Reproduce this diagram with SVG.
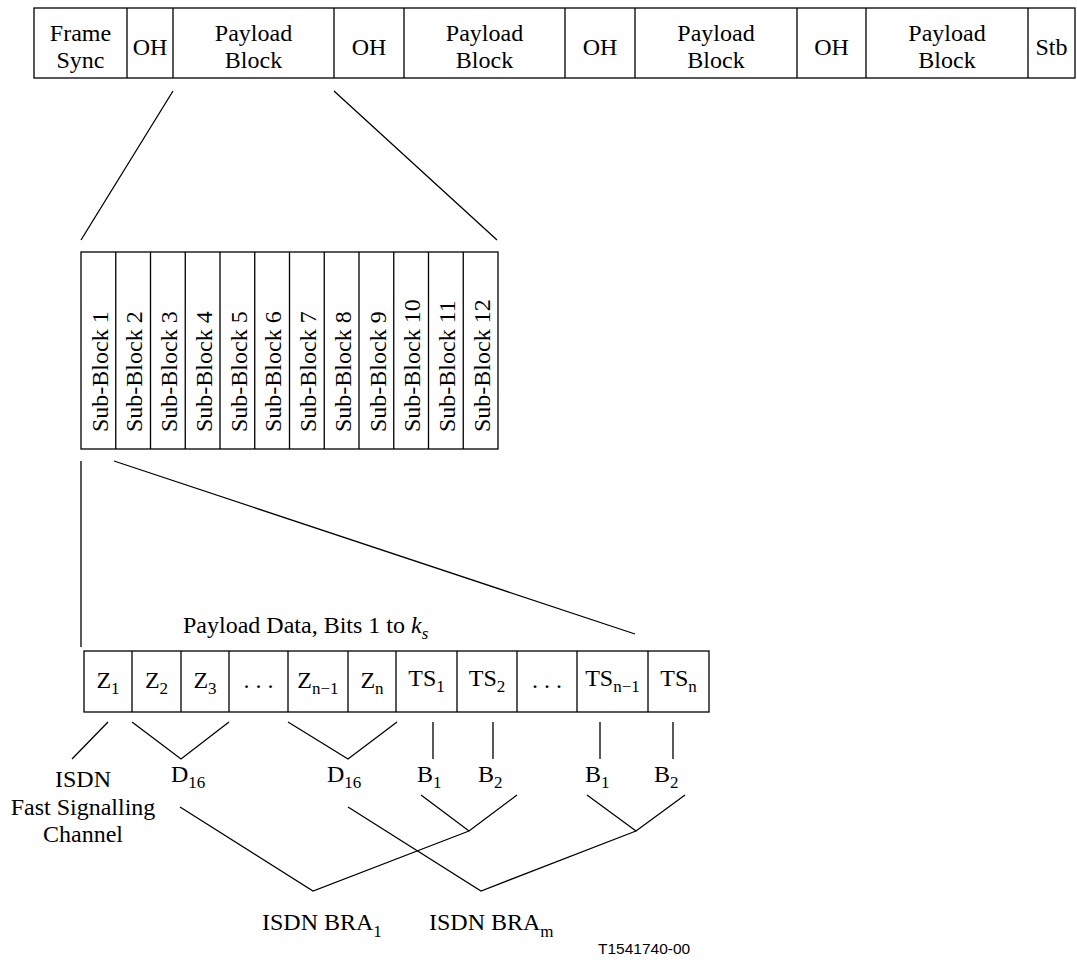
<svg xmlns="http://www.w3.org/2000/svg" width="1077" height="961" viewBox="0 0 1077 961">
<style>
.b{fill:#fff;stroke:#000;stroke-width:1.3}
.l{fill:none;stroke:#000;stroke-width:1.3}
text{font-family:"Liberation Serif","Times New Roman",serif;font-size:24px;fill:#000}
.m{text-anchor:middle}
.s{font-size:17px}
.c{font-family:"Liberation Sans",Arial,sans-serif;font-size:15.5px}
</style>
<rect width="1077" height="961" fill="#fff"/>
<g id="frame">
<rect class="b" x="34" y="8" width="1041" height="70"/>
<path class="l" d="M127 8V78M173 8V78M334 8V78M404 8V78M565 8V78M635 8V78M797 8V78M866 8V78M1028 8V78"/>
<text class="m" x="80.5" y="41">Frame</text><text class="m" x="80.5" y="68">Sync</text>
<text class="m" x="150" y="55">OH</text>
<text class="m" x="253.5" y="41">Payload</text><text class="m" x="253.5" y="68">Block</text>
<text class="m" x="369" y="55">OH</text>
<text class="m" x="484.5" y="41">Payload</text><text class="m" x="484.5" y="68">Block</text>
<text class="m" x="600" y="55">OH</text>
<text class="m" x="716" y="41">Payload</text><text class="m" x="716" y="68">Block</text>
<text class="m" x="831.5" y="55">OH</text>
<text class="m" x="947" y="41">Payload</text><text class="m" x="947" y="68">Block</text>
<text class="m" x="1051.5" y="55">Stb</text>
</g>
<g id="subblocks">
<rect class="b" x="81" y="252" width="417" height="197"/>
<path class="l" d="M115.75 252V449M150.5 252V449M185.25 252V449M220 252V449M254.75 252V449M289.5 252V449M324.25 252V449M359 252V449M393.75 252V449M428.5 252V449M463.25 252V449"/>
<text transform="translate(107.5 432) rotate(-90)">Sub-Block 1</text>
<text transform="translate(142.25 432) rotate(-90)">Sub-Block 2</text>
<text transform="translate(177 432) rotate(-90)">Sub-Block 3</text>
<text transform="translate(211.75 432) rotate(-90)">Sub-Block 4</text>
<text transform="translate(246.5 432) rotate(-90)">Sub-Block 5</text>
<text transform="translate(281.25 432) rotate(-90)">Sub-Block 6</text>
<text transform="translate(316 432) rotate(-90)">Sub-Block 7</text>
<text transform="translate(350.75 432) rotate(-90)">Sub-Block 8</text>
<text transform="translate(385.5 432) rotate(-90)">Sub-Block 9</text>
<text transform="translate(420.25 432) rotate(-90)">Sub-Block 10</text>
<text transform="translate(455 432) rotate(-90)">Sub-Block 11</text>
<text transform="translate(489.75 432) rotate(-90)">Sub-Block 12</text>
</g>
<g id="payload">
<text x="183" y="633">Payload Data, Bits 1 to <tspan font-style="italic">k</tspan><tspan font-style="italic" class="s" dy="6">s</tspan></text>
<rect class="b" x="84" y="651" width="625" height="61"/>
<path class="l" d="M132 651V712M181 651V712M229 651V712M288 651V712M348 651V712M396 651V712M457 651V712M517 651V712M577 651V712M648 651V712"/>
<text class="m" x="108" y="688">Z<tspan class="s" dy="6">1</tspan></text>
<text class="m" x="156.5" y="688">Z<tspan class="s" dy="6">2</tspan></text>
<text class="m" x="205" y="688">Z<tspan class="s" dy="6">3</tspan></text>
<text class="m" x="258.5" y="688">. . .</text>
<text class="m" x="318" y="688">Z<tspan class="s" dy="6">n−1</tspan></text>
<text class="m" x="372" y="688">Z<tspan class="s" dy="6">n</tspan></text>
<text class="m" x="426.5" y="686">TS<tspan class="s" dy="6">1</tspan></text>
<text class="m" x="487" y="686">TS<tspan class="s" dy="6">2</tspan></text>
<text class="m" x="547" y="688">. . .</text>
<text class="m" x="612.5" y="686">TS<tspan class="s" dy="6">n−1</tspan></text>
<text class="m" x="678.5" y="686">TS<tspan class="s" dy="6">n</tspan></text>
</g>
<g id="labels">
<text class="m" x="83" y="787">ISDN</text>
<text class="m" x="83" y="815">Fast Signalling</text>
<text class="m" x="83" y="842">Channel</text>
<text x="171" y="782">D<tspan class="s" dy="6">16</tspan></text>
<text x="327" y="782">D<tspan class="s" dy="6">16</tspan></text>
<text x="417" y="782">B<tspan class="s" dy="6">1</tspan></text>
<text x="478" y="782">B<tspan class="s" dy="6">2</tspan></text>
<text x="585" y="782">B<tspan class="s" dy="6">1</tspan></text>
<text x="654" y="782">B<tspan class="s" dy="6">2</tspan></text>
<text x="262" y="930">ISDN BRA<tspan class="s" dy="7">1</tspan></text>
<text x="429" y="930">ISDN BRA<tspan class="s" dy="7">m</tspan></text>
<text class="c" x="598" y="954">T1541740-00</text>
</g>
<g id="connectors">
<path class="l" d="M173 91L81 240M334 91L497 240"/>
<path class="l" d="M81 461V647M114 461L635 634"/>
<path class="l" d="M108 722L72 759M132 722L181 759L229 722M288 722L348 759L397 722"/>
<path class="l" d="M433 722V759M493 722V759M600 722V759M673 722V759"/>
<path class="l" d="M421 795L469 831L517 795M587 795L636 831L685 795"/>
<path class="l" d="M180 807L313 891L469 831M348 807L481 891L636 831"/>
</g>
</svg>
